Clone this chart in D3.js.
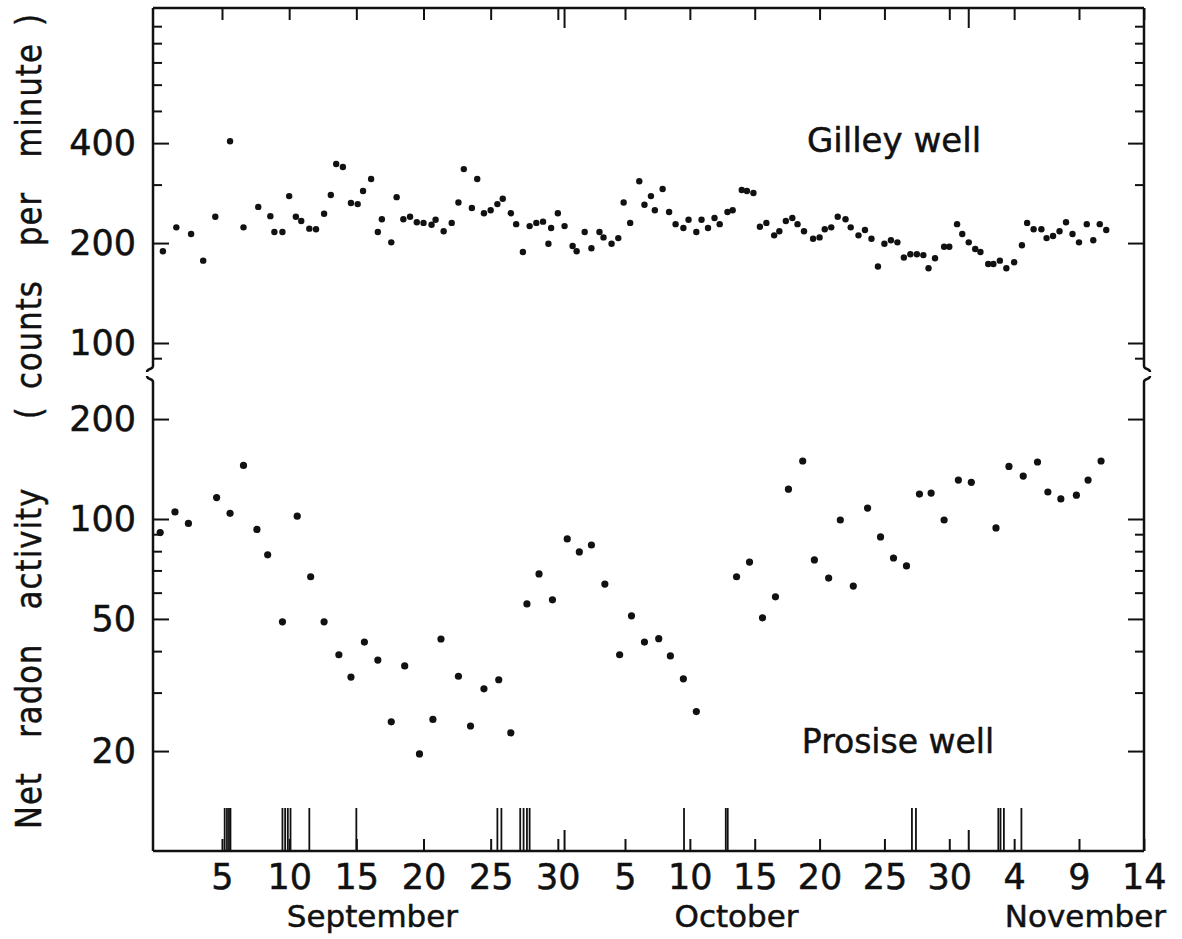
<!DOCTYPE html>
<html>
<head>
<meta charset="utf-8">
<script src="https://cdn.jsdelivr.net/npm/d3@7"></script>
<style>
  body { margin: 0; background: #fff; }
  svg { display: block; font-family: "DejaVu Sans", sans-serif; }
  svg text { stroke: #111; stroke-width: 0.5px; }
</style>
</head>
<body>
<svg id="chart"></svg>
<script>
// day index: 0 = Aug 31, Sep d = d, Oct d = 30 + d, Nov d = 61 + d
const gilleyDays = [0.6,1.6,2.7,3.6,4.5,5.6,6.6,7.7,8.6,8.9,
    9.5,10.0,10.5,10.9,11.5,12.0,12.6,13.1,13.5,14.0,
    14.6,15.1,15.5,16.1,16.6,16.9,17.6,18.0,18.5,19.0,
    19.5,20.0,20.6,20.9,21.5,22.1,22.6,23.0,23.6,24.0,
    24.5,25.0,25.5,25.9,26.5,26.9,27.4,27.9,28.4,28.9,
    29.3,29.5,30.0,30.5,31.1,31.4,32.0,32.5,33.1,33.4,
    34.0,34.5,34.9,35.4,36.1,36.5,37.0,37.3,37.9,38.4,
    38.9,39.5,39.9,40.5,40.9,41.4,41.9,42.3,42.9,43.3,
    44.0,44.4,44.9,45.4,45.9,46.5,46.9,47.4,47.9,48.3,
    48.8,49.5,50.0,50.4,50.9,51.4,52.0,52.4,53.0,53.5,
    54.0,54.5,55.0,55.5,56.0,56.5,57.0,57.5,58.0,58.4,
    58.9,59.6,60.0,60.6,61.0,61.5,62.0,62.4,63.0,63.4,
    63.9,64.4,65.0,65.6,66.0,66.5,67.1,67.5,68.0,68.5,
    69.0,69.5,70.0,70.6,71.1,71.6,72.1];
const gilleyCpm = [189,223,213,177,240,405,223,257,241,216,
    216,277,240,233,221,220,245,279,346,339,
    264,262,287,312,216,236,201,275,236,240,
    231,230,227,235,217,230,265,334,255,312,
    246,251,262,272,246,228,188,225,230,232,
    199,222,246,225,196,189,216,193,216,208,
    199,207,265,230,307,261,277,251,291,248,
    228,222,235,216,235,222,238,228,248,251,
    289,287,283,224,230,211,217,233,238,228,
    217,206,208,220,223,240,236,223,211,219,
    206,170,199,204,201,181,185,185,184,168,
    180,195,195,228,213,201,192,188,173,173,
    177,168,175,197,230,220,220,207,210,217,
    231,213,201,228,204,228,219];

const prosiseDays = [0.4,1.5,2.5,4.6,5.6,6.6,7.6,8.4,9.5,10.6,
    11.6,12.6,13.7,14.6,15.6,16.6,17.6,18.6,19.7,20.7,
    21.3,22.6,23.5,24.5,25.6,26.5,27.7,28.6,29.6,30.7,
    31.6,32.5,33.5,34.6,35.5,36.5,37.6,38.5,39.5,40.5,
    43.6,44.6,45.6,46.6,47.6,48.7,49.6,50.7,51.6,52.6,
    53.7,54.7,55.7,56.7,57.7,58.6,59.6,60.7,61.7,63.6,
    64.6,65.7,66.8,67.6,68.6,69.8,70.7,71.7];
const prosiseCpm = [91,105,97,116,104,145,93,78,49,102,
    67,49,39,33.4,42.6,37.6,24.5,36.1,19.6,24.9,
    43.5,33.6,23.8,30.8,32.8,22.7,55.5,68.3,57.1,87.1,
    79.6,83.5,63.7,39,51.1,42.6,43.6,38.7,33,26.3,
    67,74.2,50.4,58.3,123,149.5,75.3,66.4,99.3,62.8,
    107.9,88.3,76.3,72.2,118.9,119.7,99.3,131,129,94,
    144,134.7,148.5,120.6,114.9,118,131,149.5];

// event markers along the bottom axis
const eventDays = [5.2,5.37,5.52,5.63, 9.5,9.7,9.9,10.1, 11.5, 15.0,
    25.5,25.8, 27.2,27.45,27.7,27.9, 39.55, 42.77,42.92,
    57.12,57.43, 63.78,63.95,64.21, 65.56];

const xTickDays = [5,10,15,20,25,30,35,40,45,50,55,60,65,70,75];
const xTickLabels = ["5","10","15","20","25","30","5","10","15","20","25","30","4","9","14"];
const monthBoundaryDays = [30.5, 61.5];
const monthNames = ["September","October","November"];
const monthLabelDays = [16.2, 43.6, 70.5];

const gilleyMajor = [100,200,400];
const gilleyMinor = [90,300,500,600,700,800,900];
const prosiseMajor = [20,50,100,200];
const prosiseMinor = [30,40,60,70,80,90];

/** ---------------------------------------------------------------- */

const width = 1182, height = 939;
const frame = {left: 153, right: 1144, top: 8, bottom: 851};
const breakTop = 366, breakBottom = 382;
const ink = "#111";
const eventBarHeight = 43;

let svg = d3.select("#chart")
    .attr("width", width)
    .attr("height", height);

svg.append("rect").attr("width", width).attr("height", height).attr("fill", "#fff");

// hand-drawn axis is a bit uneven, so use a piecewise scale
const x = d3.scaleLinear().domain([5, 35, 70]).range([222, 625, 1079]);
const yTop = d3.scaleLog().domain([100, 1000]).range([343, 11]);
const yBot = d3.scaleLog().domain([10, 100]).range([851, 519]);

function styleAxis(g) {
    g.attr("font-size", null).attr("font-family", null);
    g.select(".domain").remove();
    g.selectAll("line").attr("stroke", ink).attr("stroke-width", 2);
    g.selectAll("text").attr("fill", ink);
}

function drawYTicks(scale, values, len, labeled) {
    let left = svg.append("g")
        .attr("transform", `translate(${frame.left},0)`)
        .call(d3.axisLeft(scale).tickValues(values).tickSize(-len).tickPadding(17)
            .tickFormat(labeled ? d3.format("d") : ""))
        .call(styleAxis);
    left.selectAll("text").attr("font-size", 35);
    svg.append("g")
        .attr("transform", `translate(${frame.right},0)`)
        .call(d3.axisRight(scale).tickValues(values).tickSize(-len).tickFormat(""))
        .call(styleAxis);
}

function breakPath(x0, dir) {
    // axis line with a small squiggle at the break
    return `M${x0},${frame.top}V${breakTop}` +
        `C${x0},${breakTop + 4} ${x0 + 6 * dir},${breakTop + 2} ${x0 + 6 * dir},${breakTop + 6}` +
        `M${x0 + 6 * dir},${breakBottom - 6}` +
        `C${x0 + 6 * dir},${breakBottom - 2} ${x0},${breakBottom - 4} ${x0},${breakBottom}` +
        `V${frame.bottom}`;
}

// frame
svg.append("path")
    .attr("d", breakPath(frame.left, -1))
    .attr("fill", "none").attr("stroke", ink).attr("stroke-width", 2.5);
svg.append("path")
    .attr("d", breakPath(frame.right, 1))
    .attr("fill", "none").attr("stroke", ink).attr("stroke-width", 2.5);
svg.append("line")
    .attr("x1", frame.left).attr("x2", frame.right)
    .attr("y1", frame.top).attr("y2", frame.top)
    .attr("stroke", ink).attr("stroke-width", 2.5);
svg.append("line")
    .attr("x1", frame.left).attr("x2", frame.right)
    .attr("y1", frame.bottom).attr("y2", frame.bottom)
    .attr("stroke", ink).attr("stroke-width", 2.5);

// y ticks
drawYTicks(yTop, gilleyMajor, 16, true);
drawYTicks(yTop, gilleyMinor, 9, false);
drawYTicks(yBot, prosiseMajor, 16, true);
drawYTicks(yBot, prosiseMinor, 9, false);

// x ticks, top and bottom
let xBottom = svg.append("g")
    .attr("transform", `translate(0,${frame.bottom})`)
    .call(d3.axisBottom(x).tickValues(xTickDays).tickSize(-12).tickPadding(13)
        .tickFormat((d, i) => xTickLabels[i]))
    .call(styleAxis);
xBottom.selectAll("text").attr("font-size", 35);

svg.append("g")
    .attr("transform", `translate(0,${frame.top})`)
    .call(d3.axisTop(x).tickValues(xTickDays).tickSize(-12).tickFormat(""))
    .call(styleAxis);

// longer ticks at month boundaries
monthBoundaryDays.forEach(d => {
    svg.append("line")
        .attr("x1", x(d)).attr("x2", x(d))
        .attr("y1", frame.top).attr("y2", frame.top + 20)
        .attr("stroke", ink).attr("stroke-width", 2);
    svg.append("line")
        .attr("x1", x(d)).attr("x2", x(d))
        .attr("y1", frame.bottom).attr("y2", frame.bottom - 21)
        .attr("stroke", ink).attr("stroke-width", 2);
});

// event bars
svg.append("g")
    .selectAll("line")
    .data(eventDays)
    .join("line")
    .attr("x1", d => x(d)).attr("x2", d => x(d))
    .attr("y1", frame.bottom).attr("y2", frame.bottom - eventBarHeight)
    .attr("stroke", ink).attr("stroke-width", 1.8);

// month names
svg.append("g")
    .selectAll("text")
    .data(monthNames)
    .join("text")
    .attr("x", (d, i) => x(monthLabelDays[i]))
    .attr("y", 927)
    .attr("text-anchor", "middle")
    .attr("font-size", 31)
    .attr("fill", ink)
    .text(d => d);

// data points
svg.append("g")
    .selectAll("circle")
    .data(d3.zip(gilleyDays, gilleyCpm))
    .join("circle")
    .attr("cx", d => x(d[0]))
    .attr("cy", d => yTop(d[1]))
    .attr("r", 3.2)
    .attr("fill", ink);

svg.append("g")
    .selectAll("circle")
    .data(d3.zip(prosiseDays, prosiseCpm))
    .join("circle")
    .attr("cx", d => x(d[0]))
    .attr("cy", d => yBot(d[1]))
    .attr("r", 3.6)
    .attr("fill", ink);

// panel labels
svg.append("text")
    .attr("x", 894).attr("y", 152)
    .attr("text-anchor", "middle")
    .attr("font-size", 34)
    .attr("fill", ink)
    .text("Gilley well");

svg.append("text")
    .attr("x", 898).attr("y", 753)
    .attr("text-anchor", "middle")
    .attr("font-size", 33)
    .attr("fill", ink)
    .text("Prosise well");

// y axis title, slightly condensed like the original lettering
svg.append("text")
    .attr("transform", "translate(41,421) rotate(-90) scale(0.85,1)")
    .attr("text-anchor", "middle")
    .attr("font-size", 36)
    .attr("letter-spacing", 1.3)
    .attr("word-spacing", 7.4)
    .style("white-space", "pre")
    .attr("fill", ink)
    .text("Net  radon  activity    ( counts  per  minute )");
</script>
</body>
</html>
